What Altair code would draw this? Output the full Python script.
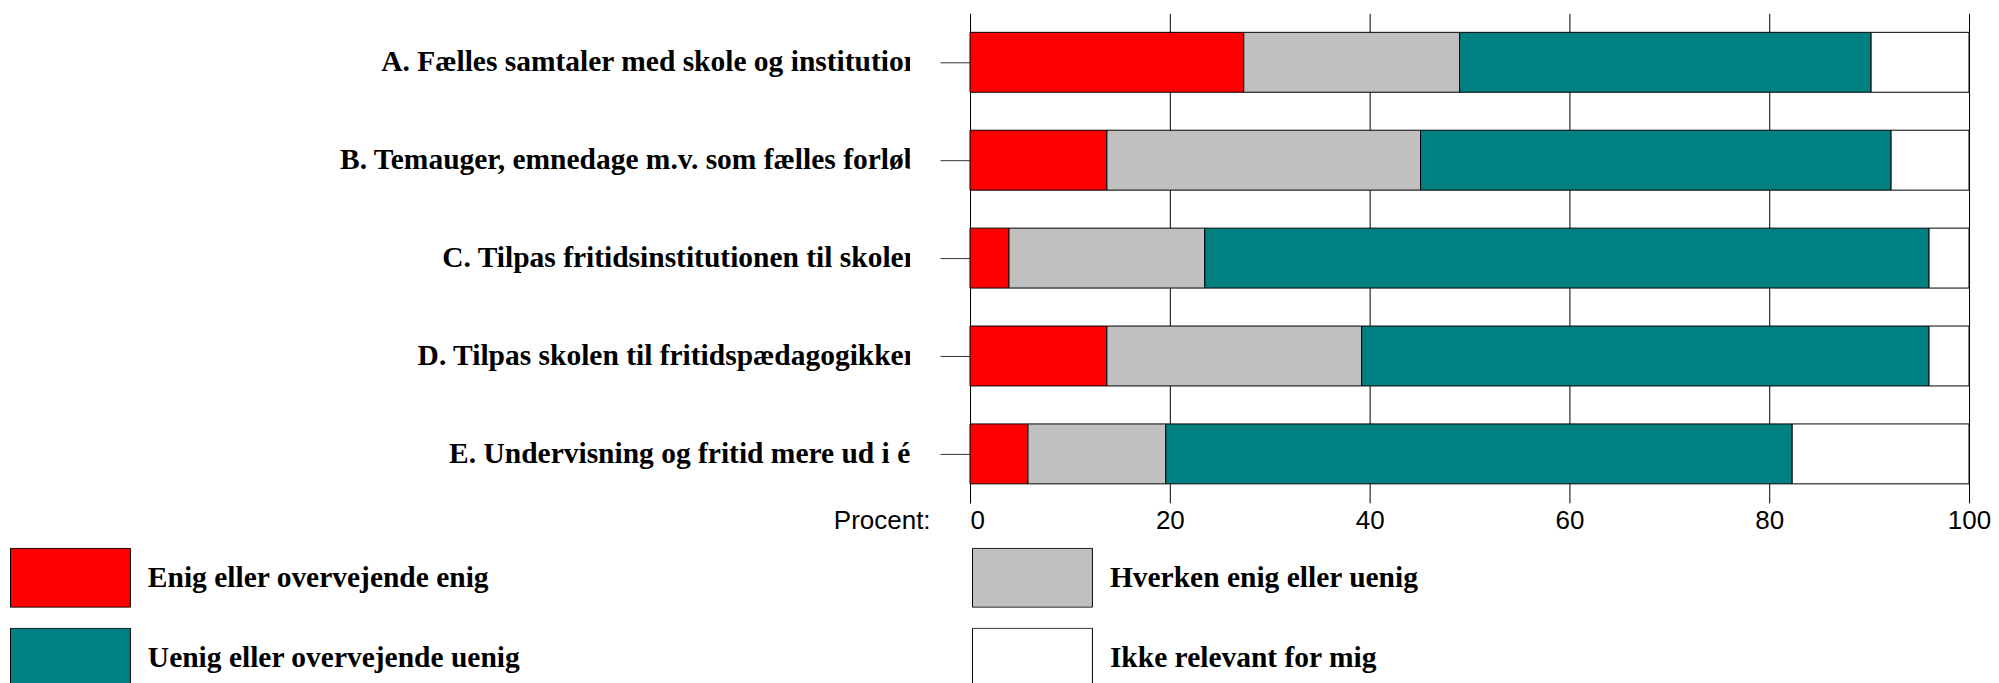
import altair as alt
import pandas as pd

categories = [
    "A. Fælles samtaler med skole og institution",
    "B. Temauger, emnedage m.v. som fælles forløb",
    "C. Tilpas fritidsinstitutionen til skolen",
    "D. Tilpas skolen til fritidspædagogikken",
    "E. Undervisning og fritid mere ud i ét",
]
responses = [
    "Enig eller overvejende enig",
    "Hverken enig eller uenig",
    "Uenig eller overvejende uenig",
    "Ikke relevant for mig",
]
colors = ["#FF0000", "#C0C0C0", "#008080", "#FFFFFF"]

enig = [27.4, 13.7, 3.9, 13.7, 5.8]
hverken = [21.6, 31.4, 19.6, 25.5, 13.8]
uenig = [41.2, 47.1, 72.5, 56.8, 62.7]
ikke = [9.8, 7.8, 4.0, 4.0, 17.7]

x_ticks = [0, 20, 40, 60, 80, 100]

rows = []
for i, c in enumerate(categories):
    for k, (r, vals) in enumerate(zip(responses, [enig, hverken, uenig, ikke])):
        rows.append({"cat": c, "resp": r, "k": k, "pct": vals[i]})
df = pd.DataFrame(rows)
labels_df = pd.DataFrame({"cat": categories})

yscale = alt.Scale(paddingInner=0.388, paddingOuter=0.194)

label_panel = alt.Chart(labels_df).mark_text(
    align="right", baseline="middle", font="Liberation Serif",
    fontWeight="bold", fontSize=29.5, color="black", clip=True
).encode(
    y=alt.Y("cat:N", sort=categories, axis=None, scale=yscale),
    x=alt.value(911),
    text="cat:N",
).properties(width=901, height=490)

bars = alt.Chart(df).mark_bar(stroke="black", strokeWidth=1).encode(
    y=alt.Y(
        "cat:N", sort=categories, scale=yscale,
        axis=alt.Axis(labels=False, title=None, ticks=True, tickSize=30,
                      tickColor="#333333", tickWidth=1, domain=True,
                      domainColor="black", domainWidth=1, grid=False),
    ),
    x=alt.X(
        "pct:Q", stack="zero",
        scale=alt.Scale(domain=[0, 100], nice=False),
        axis=alt.Axis(
            values=x_ticks, grid=True, gridColor="black", gridWidth=1,
            gridOpacity=1, domain=False, ticks=False, tickSize=0,
            labelFont="Liberation Sans", labelFontSize=26, labelColor="black",
            labelPadding=5, labelFlush=False, labelOverlap=False,
            labelAlign={"condition": {"test": "datum.value == 0", "value": "left"}, "value": "center"},
            title="Procent:", titleFont="Liberation Sans", titleFontSize=26,
            titleFontWeight="normal", titleColor="black", titleX=-40, titleY=5,
            titleAlign="right", titleBaseline="top",
        ),
    ),
    color=alt.Color(
        "resp:N",
        scale=alt.Scale(domain=responses, range=colors),
        legend=alt.Legend(
            title=None, orient="none", legendX=0, legendY=535,
            direction="horizontal", columns=2,
            symbolType="M-1,-0.4917H1V0.4917H-1Z", symbolSize=14400,
            symbolStrokeColor="black", symbolStrokeWidth=1, symbolOpacity=1,
            labelFont="Liberation Serif", labelFontWeight="bold",
            labelFontSize=29.5, labelColor="black", labelOffset=17,
            labelLimit=1000, clipHeight=60, rowPadding=20,
            columnPadding=452, padding=0,
        ),
    ),
    order=alt.Order("k:Q", sort="ascending"),
).properties(width=1000, height=490)

chart = alt.hconcat(label_panel, bars, spacing=60, bounds="flush").properties(
    padding={"left": 2, "top": 5, "right": 0, "bottom": 0}
).configure_view(stroke=None)

chart.save("out.html", embed_options={"renderer": "svg", "actions": False})
